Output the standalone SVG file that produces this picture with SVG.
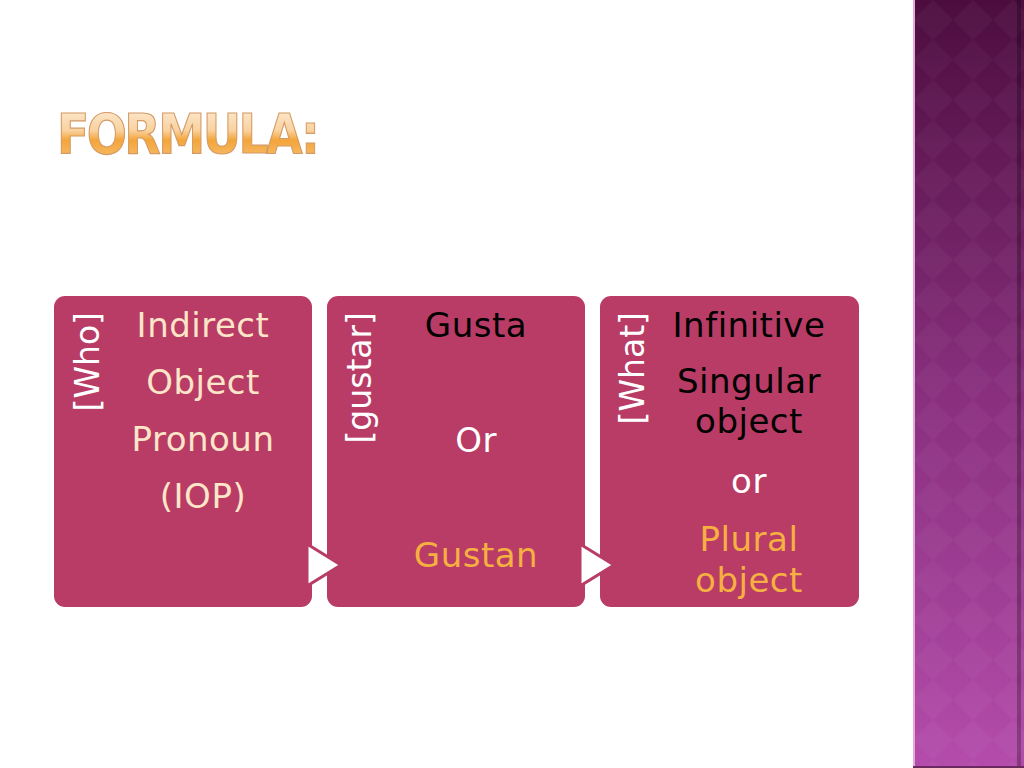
<svg xmlns="http://www.w3.org/2000/svg" width="1024" height="768" viewBox="0 0 1024 768">
  <defs>
    <linearGradient id="barGrad" x1="0" y1="0" x2="0" y2="1">
      <stop offset="0" stop-color="#4c0d3e"/>
      <stop offset="0.5" stop-color="#872e7c"/>
      <stop offset="1" stop-color="#b44cab"/>
    </linearGradient>
    <pattern id="diamonds" width="40" height="40" patternUnits="userSpaceOnUse" x="913" y="0">
      <path d="M20 0 L40 20 L20 40 L0 20 Z" fill="#ffffff" fill-opacity="0.03"/>
    </pattern>
    <linearGradient id="titleGrad" x1="0" y1="0" x2="0" y2="1">
      <stop offset="0" stop-color="#fdf0e0"/>
      <stop offset="0.45" stop-color="#f9d29e"/>
      <stop offset="0.6" stop-color="#f3a53a"/>
      <stop offset="1" stop-color="#f8c47c"/>
    </linearGradient>
    <style>
      .box { fill: #b83c66; }
      .txt { font-family: "DejaVu Sans", "Liberation Sans", sans-serif; font-size: 34px; text-anchor: middle; letter-spacing: 0.5px; }
      .lbl { font-family: "DejaVu Sans", "Liberation Sans", sans-serif; font-size: 33px; text-anchor: end; fill: #ffffff; }
      .peach { fill: #fce5c8; }
      .black { fill: #000000; }
      .white { fill: #ffffff; }
      .orange { fill: #f5b041; }
      .arrow { fill: #ffffff; stroke: #b83c66; stroke-width: 3; stroke-linejoin: miter; }
    </style>
  </defs>

  <rect x="0" y="0" width="1024" height="768" fill="#ffffff"/>

  <!-- right decorative bar -->
  <g id="sidebar">
    <rect x="913" y="0" width="111" height="768" fill="url(#barGrad)"/>
    <rect x="913" y="0" width="111" height="768" fill="url(#diamonds)"/>
    <rect x="913" y="0" width="2" height="768" fill="#e7a9d9"/>
    <rect x="1017" y="0" width="4" height="768" fill="#000000" fill-opacity="0.25"/>
    <rect x="913" y="766" width="111" height="2" fill="#6a2a60"/>
  </g>

  <!-- title -->
  <g id="title">
    <text transform="translate(57,153) scale(0.86,1)" x="0" y="0" font-family="'DejaVu Sans', 'Liberation Sans', sans-serif" font-weight="bold" font-size="55" letter-spacing="-3" fill="url(#titleGrad)" stroke="#d39a66" stroke-width="1.2">FORMULA:</text>
  </g>

  <!-- node 1 -->
  <g id="node-who">
    <rect class="box" x="54" y="296" width="258" height="311" rx="11" ry="11"/>
    <text class="lbl" transform="translate(99,312) rotate(-90)">[Who]</text>
    <text class="txt peach" x="203" y="337">Indirect</text>
    <text class="txt peach" x="203" y="394">Object</text>
    <text class="txt peach" x="203" y="451">Pronoun</text>
    <text class="txt peach" x="203" y="508">(IOP)</text>
  </g>

  <!-- node 2 -->
  <g id="node-gustar">
    <rect class="box" x="327" y="296" width="258" height="311" rx="11" ry="11"/>
    <text class="lbl" transform="translate(371,312) rotate(-90)">[gustar]</text>
    <text class="txt black" x="476" y="337">Gusta</text>
    <text class="txt white" x="476" y="452">Or</text>
    <text class="txt orange" x="476" y="567">Gustan</text>
  </g>

  <!-- node 3 -->
  <g id="node-what">
    <rect class="box" x="600" y="296" width="259" height="311" rx="11" ry="11"/>
    <text class="lbl" transform="translate(644,312) rotate(-90)">[What]</text>
    <text class="txt black" x="749" y="337">Infinitive</text>
    <text class="txt black" x="749" y="393">Singular</text>
    <text class="txt black" x="749" y="433">object</text>
    <text class="txt white" x="749" y="493">or</text>
    <text class="txt orange" x="749" y="551">Plural</text>
    <text class="txt orange" x="749" y="592">object</text>
  </g>

  <!-- connectors -->
  <g id="connectors">
    <path class="arrow" d="M307 544 L341 565 L307 586 Z"/>
    <path class="arrow" d="M580 544 L614 565 L580 586 Z"/>
  </g>
</svg>
